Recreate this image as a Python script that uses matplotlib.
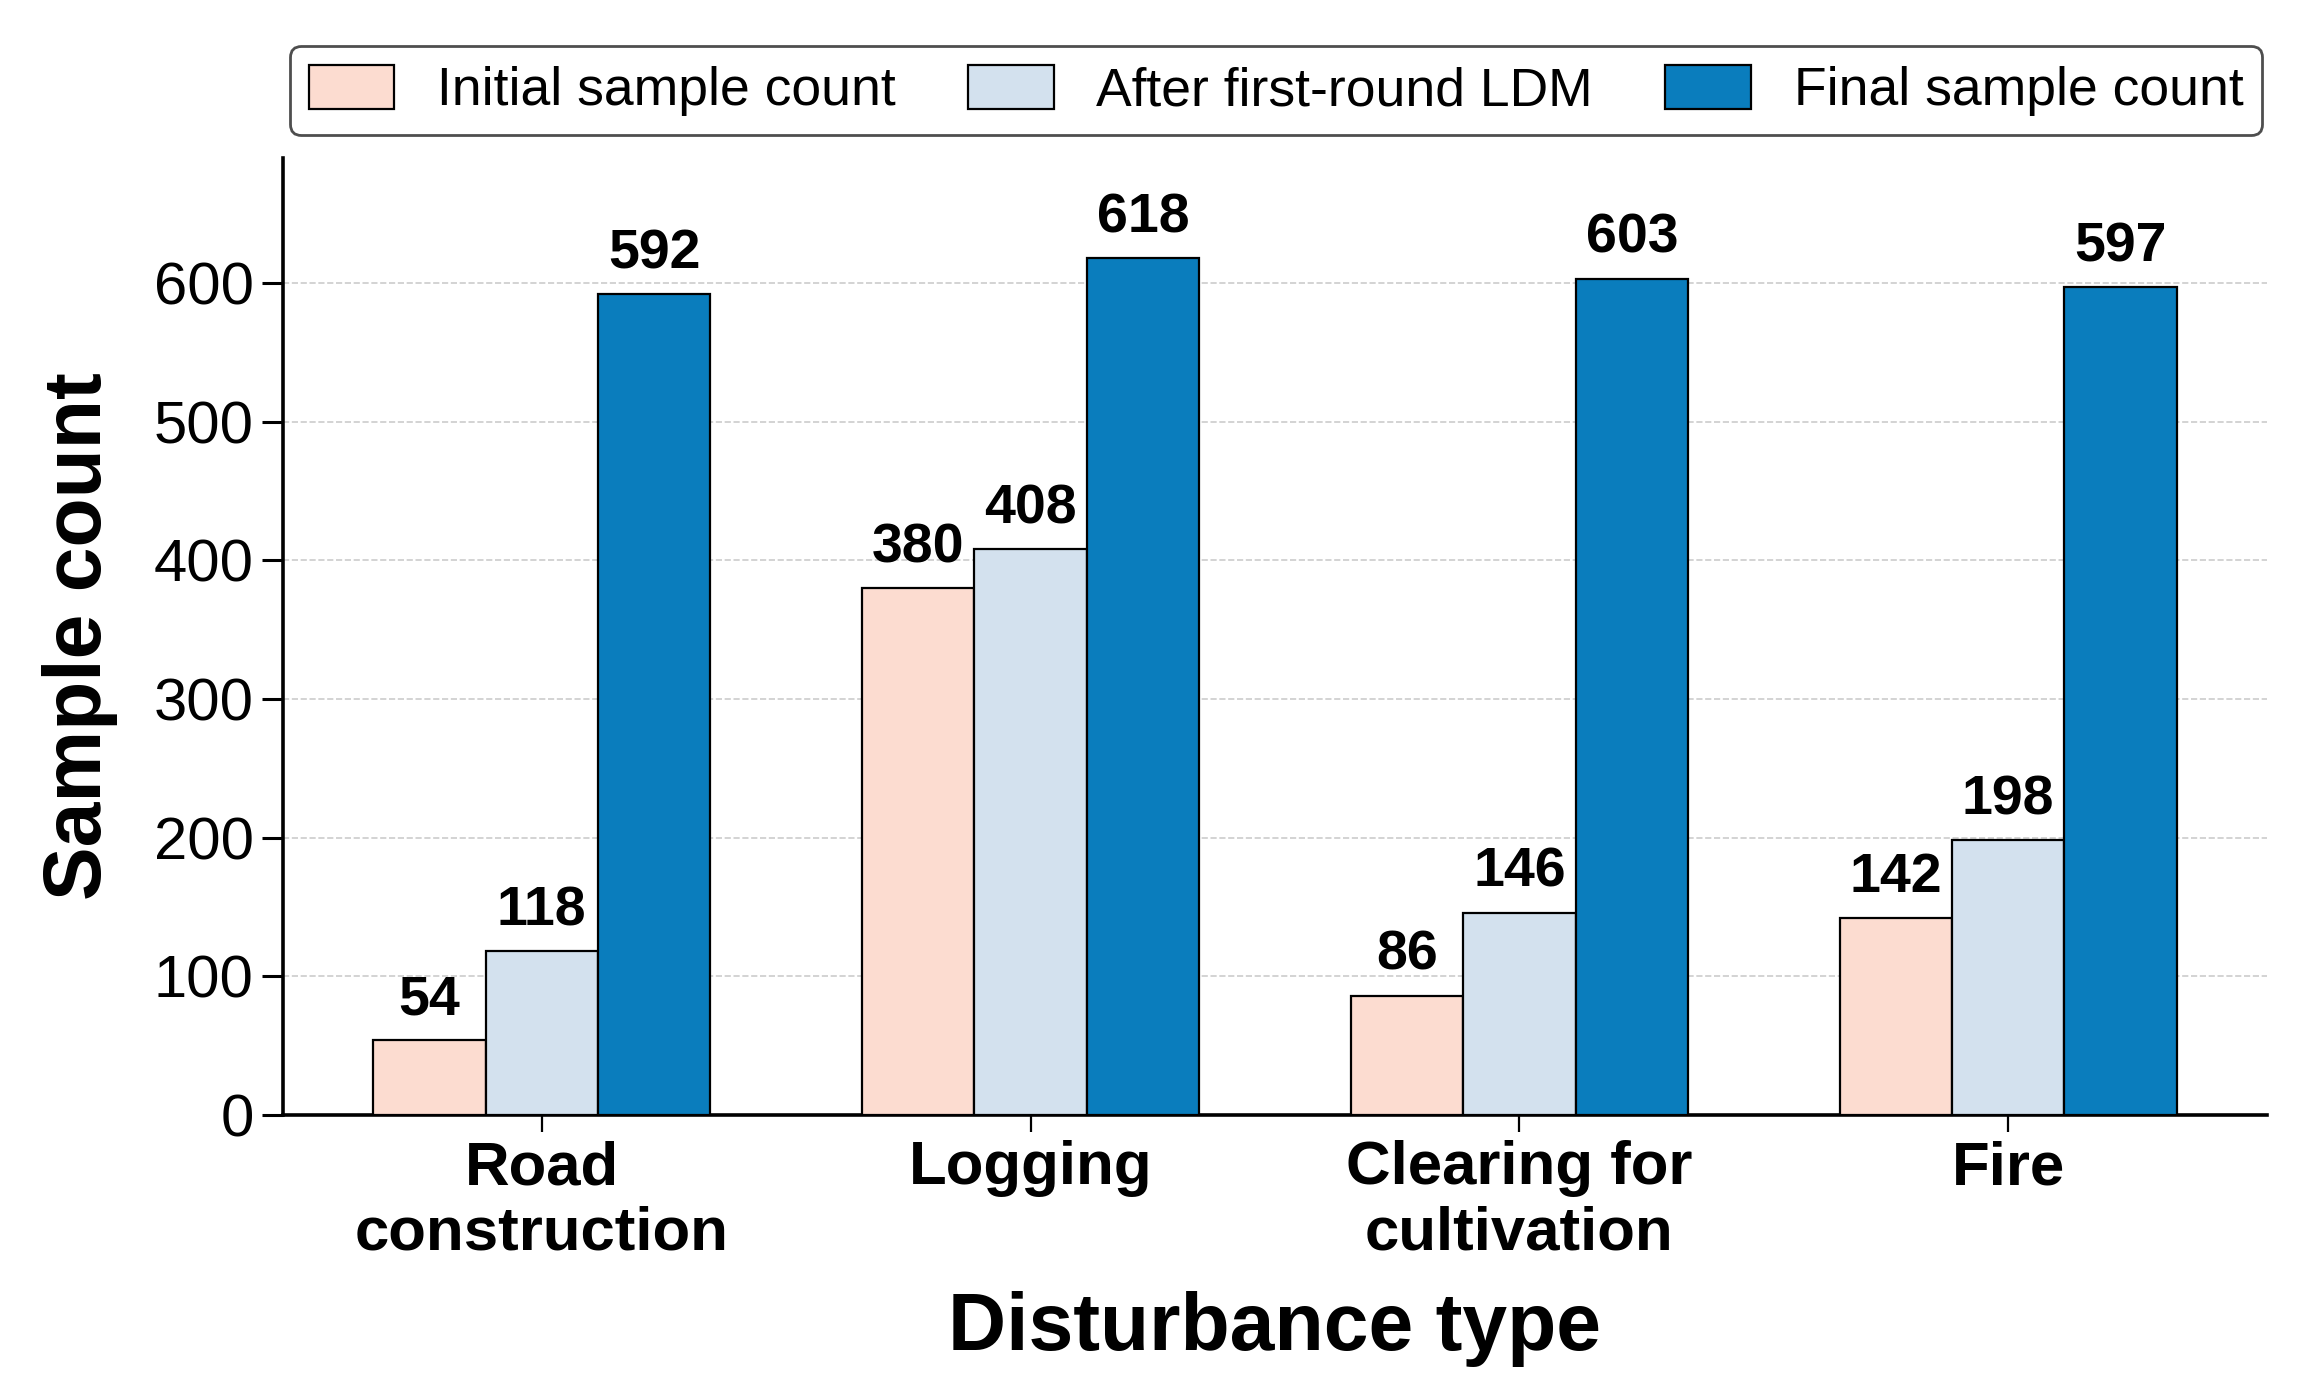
import matplotlib
matplotlib.use("Agg")
import matplotlib.pyplot as plt
import numpy as np

categories = ["Road\nconstruction", "Logging", "Clearing for\ncultivation", "Fire"]
series_names = ["Initial sample count", "After first-round LDM", "Final sample count"]
initial = [54, 380, 86, 142]
after_ldm = [118, 408, 146, 198]
final = [592, 618, 603, 597]
series = [initial, after_ldm, final]
colors = ["#fcdcd0", "#d3e1ee", "#0a7dbd"]

plt.rcParams['font.family'] = ['Liberation Sans', 'DejaVu Sans']

fig = plt.figure(figsize=(23.06, 13.97), dpi=100)
ax = fig.add_axes([0.1227, 0.2018, 0.8604, 0.685])

x = np.arange(len(categories))
width = 0.23
for i, (vals, name, c) in enumerate(zip(series, series_names, colors)):
    pos = x + (i - 1) * width
    bars = ax.bar(pos, vals, width, color=c, edgecolor="black", linewidth=1.6,
                  label=name, zorder=3)
    for b, v in zip(bars, vals):
        ax.text(b.get_x() + b.get_width() / 2, v + 10, str(v), ha="center",
                va="bottom", fontsize=40, fontweight="bold", zorder=4)

ax.set_ylim(0, 690)
ax.set_yticks(range(0, 700, 100))
ax.set_xticks(x)
ax.set_xticklabels(categories, fontsize=44.5, fontweight="bold", linespacing=1.2)
ax.tick_params(axis="y", labelsize=43, length=15, width=2.2, pad=6)
ax.tick_params(axis="x", length=12, width=1.6, pad=6)
ax.grid(axis="y", linestyle="--", color="#cccccc", linewidth=1.2, zorder=0)
ax.set_axisbelow(True)
for s in ["top", "right"]:
    ax.spines[s].set_visible(False)
for s in ["left", "bottom"]:
    ax.spines[s].set_linewidth(2.6)

ax.set_ylabel("Sample count", fontsize=58, fontweight="bold", labelpad=26)
ax.set_xlabel("Disturbance type", fontsize=58, fontweight="bold", labelpad=20)

leg = ax.legend(loc="lower left", bbox_to_anchor=(0.0035, 1.024, 0.994, 0.1),
                mode="expand", ncol=3,
                fontsize=38.5, frameon=True, fancybox=True, edgecolor="#222222",
                handlelength=1.6, handleheight=0.9, columnspacing=1.0,
                handletextpad=0.8, borderpad=0.35, borderaxespad=0)
leg.get_frame().set_linewidth(2.0)

fig.savefig("out.png", dpi=100)
